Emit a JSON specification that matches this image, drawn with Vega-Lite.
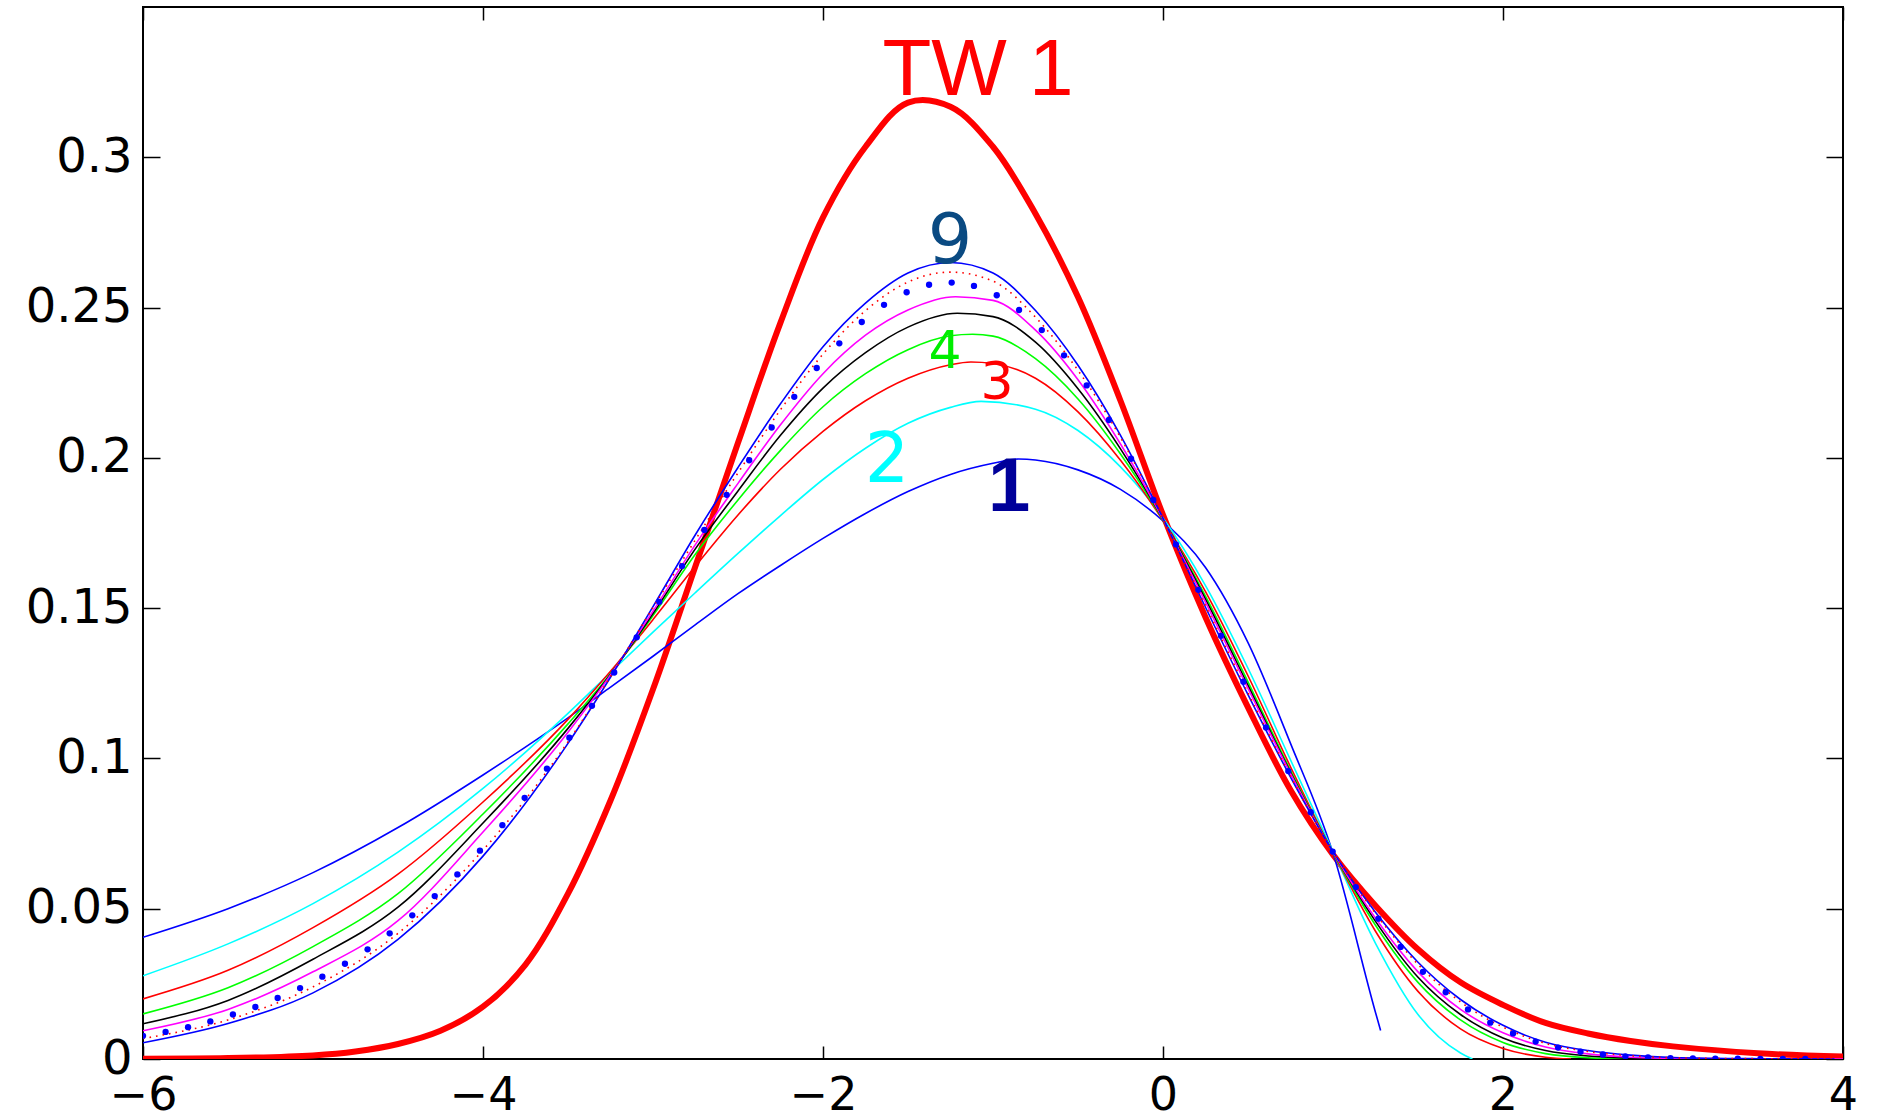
{
  "$schema": "https://vega.github.io/schema/vega-lite/v6.json",
  "width": 1700,
  "height": 1052,
  "autosize": {"type": "none"},
  "padding": {"left": 143, "top": 7, "right": 34, "bottom": 60},
  "background": "white",
  "config": {
    "view": {"stroke": "black", "strokeWidth": 2},
    "axis": {"domain": false, "grid": false, "tickColor": "black", "tickWidth": 1.5, "labelColor": "black", "labelFont": "DejaVu Sans", "labelFontSize": 48, "labelFlush": false, "labelOverlap": false, "title": null}
  },
  "datasets": {
    "curves": [
      {"curve":"TW","x":-6,"y":0.0001},{"curve":"TW","x":-5.5,"y":0.0003},{"curve":"TW","x":-5,"y":0.0012},{"curve":"TW","x":-4.75,"y":0.0025},{"curve":"TW","x":-4.5,"y":0.005},{"curve":"TW","x":-4.25,"y":0.0094},{"curve":"TW","x":-4,"y":0.0174},{"curve":"TW","x":-3.75,"y":0.0314},{"curve":"TW","x":-3.5,"y":0.055},{"curve":"TW","x":-3.25,"y":0.086},{"curve":"TW","x":-3,"y":0.123},{"curve":"TW","x":-2.75,"y":0.164},{"curve":"TW","x":-2.5,"y":0.205},{"curve":"TW","x":-2.25,"y":0.245},{"curve":"TW","x":-2,"y":0.28},{"curve":"TW","x":-1.75,"y":0.3035},{"curve":"TW","x":-1.5,"y":0.3182},{"curve":"TW","x":-1.25,"y":0.3168},{"curve":"TW","x":-1,"y":0.3035},{"curve":"TW","x":-0.75,"y":0.2812},{"curve":"TW","x":-0.5,"y":0.2535},{"curve":"TW","x":-0.25,"y":0.219},{"curve":"TW","x":0,"y":0.181},{"curve":"TW","x":0.25,"y":0.147},{"curve":"TW","x":0.5,"y":0.117},{"curve":"TW","x":0.75,"y":0.0895},{"curve":"TW","x":1,"y":0.068},{"curve":"TW","x":1.25,"y":0.051},{"curve":"TW","x":1.5,"y":0.0365},{"curve":"TW","x":1.75,"y":0.0255},{"curve":"TW","x":2,"y":0.018},{"curve":"TW","x":2.25,"y":0.012},{"curve":"TW","x":2.5,"y":0.0085},{"curve":"TW","x":2.75,"y":0.006},{"curve":"TW","x":3,"y":0.0042},{"curve":"TW","x":3.5,"y":0.0019},{"curve":"TW","x":4,"y":0.0008},

      {"curve":"c1","x":-6,"y":0.0405},{"curve":"c1","x":-5.5,"y":0.05},{"curve":"c1","x":-5,"y":0.062},{"curve":"c1","x":-4.5,"y":0.077},{"curve":"c1","x":-4,"y":0.0945},{"curve":"c1","x":-3.5,"y":0.1135},{"curve":"c1","x":-3.25,"y":0.1237},{"curve":"c1","x":-3,"y":0.134},{"curve":"c1","x":-2.75,"y":0.1445},{"curve":"c1","x":-2.5,"y":0.1548},{"curve":"c1","x":-2.25,"y":0.1642},{"curve":"c1","x":-2,"y":0.1732},{"curve":"c1","x":-1.75,"y":0.1815},{"curve":"c1","x":-1.5,"y":0.1888},{"curve":"c1","x":-1.25,"y":0.1945},{"curve":"c1","x":-1,"y":0.1982},{"curve":"c1","x":-0.85,"y":0.1996},{"curve":"c1","x":-0.75,"y":0.1993},{"curve":"c1","x":-0.5,"y":0.196},{"curve":"c1","x":-0.25,"y":0.1895},{"curve":"c1","x":0,"y":0.179},{"curve":"c1","x":0.25,"y":0.1635},{"curve":"c1","x":0.5,"y":0.1385},{"curve":"c1","x":0.75,"y":0.105},{"curve":"c1","x":1,"y":0.0685},{"curve":"c1","x":1.25,"y":0.0155},{"curve":"c1","x":1.28,"y":0.0095},

      {"curve":"c2","x":-6,"y":0.0277},{"curve":"c2","x":-5.5,"y":0.0383},{"curve":"c2","x":-5,"y":0.0517},{"curve":"c2","x":-4.5,"y":0.0688},{"curve":"c2","x":-4,"y":0.09},{"curve":"c2","x":-3.5,"y":0.115},{"curve":"c2","x":-3.25,"y":0.1286},{"curve":"c2","x":-3,"y":0.142},{"curve":"c2","x":-2.75,"y":0.1552},{"curve":"c2","x":-2.5,"y":0.1682},{"curve":"c2","x":-2.25,"y":0.1808},{"curve":"c2","x":-2,"y":0.1928},{"curve":"c2","x":-1.75,"y":0.2032},{"curve":"c2","x":-1.5,"y":0.2115},{"curve":"c2","x":-1.25,"y":0.2168},{"curve":"c2","x":-1.07,"y":0.2188},{"curve":"c2","x":-0.75,"y":0.2162},{"curve":"c2","x":-0.5,"y":0.2091},{"curve":"c2","x":-0.25,"y":0.197},{"curve":"c2","x":0,"y":0.18},{"curve":"c2","x":0.25,"y":0.1575},{"curve":"c2","x":0.5,"y":0.13},{"curve":"c2","x":0.75,"y":0.0995},{"curve":"c2","x":1,"y":0.069},{"curve":"c2","x":1.25,"y":0.0385},{"curve":"c2","x":1.5,"y":0.0148},{"curve":"c2","x":1.75,"y":0.002},{"curve":"c2","x":1.82,"y":0},

      {"curve":"c3","x":-6,"y":0.02},{"curve":"c3","x":-5.5,"y":0.0295},{"curve":"c3","x":-5,"y":0.0437},{"curve":"c3","x":-4.5,"y":0.0615},{"curve":"c3","x":-4,"y":0.0855},{"curve":"c3","x":-3.5,"y":0.113},{"curve":"c3","x":-3.25,"y":0.129},{"curve":"c3","x":-3,"y":0.1462},{"curve":"c3","x":-2.75,"y":0.164},{"curve":"c3","x":-2.5,"y":0.181},{"curve":"c3","x":-2.25,"y":0.1962},{"curve":"c3","x":-2,"y":0.2088},{"curve":"c3","x":-1.75,"y":0.219},{"curve":"c3","x":-1.5,"y":0.2265},{"curve":"c3","x":-1.25,"y":0.231},{"curve":"c3","x":-1.13,"y":0.2319},{"curve":"c3","x":-1,"y":0.2314},{"curve":"c3","x":-0.75,"y":0.2265},{"curve":"c3","x":-0.5,"y":0.2153},{"curve":"c3","x":-0.25,"y":0.1992},{"curve":"c3","x":0,"y":0.1791},{"curve":"c3","x":0.25,"y":0.1555},{"curve":"c3","x":0.5,"y":0.1275},{"curve":"c3","x":0.75,"y":0.0972},{"curve":"c3","x":1,"y":0.0686},{"curve":"c3","x":1.25,"y":0.0425},{"curve":"c3","x":1.5,"y":0.0225},{"curve":"c3","x":1.75,"y":0.01},{"curve":"c3","x":2,"y":0.0035},{"curve":"c3","x":2.25,"y":0.0006},{"curve":"c3","x":2.4,"y":0},

      {"curve":"c4","x":-6,"y":0.015},{"curve":"c4","x":-5.5,"y":0.0237},{"curve":"c4","x":-5,"y":0.0374},{"curve":"c4","x":-4.5,"y":0.055},{"curve":"c4","x":-4,"y":0.0815},{"curve":"c4","x":-3.5,"y":0.1115},{"curve":"c4","x":-3.25,"y":0.1282},{"curve":"c4","x":-3,"y":0.1475},{"curve":"c4","x":-2.75,"y":0.168},{"curve":"c4","x":-2.5,"y":0.186},{"curve":"c4","x":-2.25,"y":0.2025},{"curve":"c4","x":-2,"y":0.217},{"curve":"c4","x":-1.75,"y":0.228},{"curve":"c4","x":-1.5,"y":0.236},{"curve":"c4","x":-1.25,"y":0.2406},{"curve":"c4","x":-1.12,"y":0.2411},{"curve":"c4","x":-1,"y":0.2405},{"curve":"c4","x":-0.75,"y":0.233},{"curve":"c4","x":-0.5,"y":0.2196},{"curve":"c4","x":-0.25,"y":0.2013},{"curve":"c4","x":0,"y":0.1793},{"curve":"c4","x":0.25,"y":0.154},{"curve":"c4","x":0.5,"y":0.1255},{"curve":"c4","x":0.75,"y":0.096},{"curve":"c4","x":1,"y":0.0687},{"curve":"c4","x":1.25,"y":0.0445},{"curve":"c4","x":1.5,"y":0.0255},{"curve":"c4","x":1.75,"y":0.013},{"curve":"c4","x":2,"y":0.0055},{"curve":"c4","x":2.25,"y":0.0018},{"curve":"c4","x":2.5,"y":0.0004},{"curve":"c4","x":2.75,"y":0},

      {"curve":"c5","x":-6,"y":0.0117},{"curve":"c5","x":-5.5,"y":0.0195},{"curve":"c5","x":-5,"y":0.0332},{"curve":"c5","x":-4.5,"y":0.0505},{"curve":"c5","x":-4,"y":0.0785},{"curve":"c5","x":-3.5,"y":0.11},{"curve":"c5","x":-3.25,"y":0.128},{"curve":"c5","x":-3,"y":0.1482},{"curve":"c5","x":-2.75,"y":0.1698},{"curve":"c5","x":-2.5,"y":0.189},{"curve":"c5","x":-2.25,"y":0.2075},{"curve":"c5","x":-2,"y":0.2232},{"curve":"c5","x":-1.75,"y":0.235},{"curve":"c5","x":-1.5,"y":0.2435},{"curve":"c5","x":-1.21,"y":0.2481},{"curve":"c5","x":-1,"y":0.247},{"curve":"c5","x":-0.75,"y":0.2385},{"curve":"c5","x":-0.5,"y":0.223},{"curve":"c5","x":-0.25,"y":0.203},{"curve":"c5","x":0,"y":0.1795},{"curve":"c5","x":0.25,"y":0.153},{"curve":"c5","x":0.5,"y":0.1243},{"curve":"c5","x":0.75,"y":0.0954},{"curve":"c5","x":1,"y":0.0688},{"curve":"c5","x":1.25,"y":0.0458},{"curve":"c5","x":1.5,"y":0.0272},{"curve":"c5","x":1.75,"y":0.0148},{"curve":"c5","x":2,"y":0.007},{"curve":"c5","x":2.25,"y":0.0028},{"curve":"c5","x":2.5,"y":0.001},{"curve":"c5","x":2.75,"y":0.0003},{"curve":"c5","x":3,"y":0},

      {"curve":"c6","x":-6,"y":0.0094},{"curve":"c6","x":-5.5,"y":0.0165},{"curve":"c6","x":-5,"y":0.029},{"curve":"c6","x":-4.5,"y":0.046},{"curve":"c6","x":-4,"y":0.0755},{"curve":"c6","x":-3.5,"y":0.1087},{"curve":"c6","x":-3.25,"y":0.1278},{"curve":"c6","x":-3,"y":0.149},{"curve":"c6","x":-2.75,"y":0.1712},{"curve":"c6","x":-2.5,"y":0.1915},{"curve":"c6","x":-2.25,"y":0.211},{"curve":"c6","x":-2,"y":0.228},{"curve":"c6","x":-1.75,"y":0.2408},{"curve":"c6","x":-1.5,"y":0.2492},{"curve":"c6","x":-1.22,"y":0.2536},{"curve":"c6","x":-1,"y":0.2524},{"curve":"c6","x":-0.75,"y":0.2425},{"curve":"c6","x":-0.5,"y":0.226},{"curve":"c6","x":-0.25,"y":0.2046},{"curve":"c6","x":0,"y":0.1796},{"curve":"c6","x":0.25,"y":0.152},{"curve":"c6","x":0.5,"y":0.1233},{"curve":"c6","x":0.75,"y":0.095},{"curve":"c6","x":1,"y":0.0688},{"curve":"c6","x":1.25,"y":0.0468},{"curve":"c6","x":1.5,"y":0.029},{"curve":"c6","x":1.75,"y":0.0165},{"curve":"c6","x":2,"y":0.0087},{"curve":"c6","x":2.25,"y":0.004},{"curve":"c6","x":2.5,"y":0.0017},{"curve":"c6","x":2.75,"y":0.0006},{"curve":"c6","x":3,"y":0.0002},{"curve":"c6","x":3.5,"y":0},{"curve":"c6","x":4,"y":0},

      {"curve":"c8","x":-6,"y":0.0068},{"curve":"c8","x":-5.5,"y":0.013},{"curve":"c8","x":-5,"y":0.024},{"curve":"c8","x":-4.5,"y":0.0418},{"curve":"c8","x":-4,"y":0.0695},{"curve":"c8","x":-3.5,"y":0.1055},{"curve":"c8","x":-3.25,"y":0.1272},{"curve":"c8","x":-3,"y":0.1502},{"curve":"c8","x":-2.75,"y":0.1728},{"curve":"c8","x":-2.5,"y":0.195},{"curve":"c8","x":-2.25,"y":0.216},{"curve":"c8","x":-2,"y":0.2345},{"curve":"c8","x":-1.75,"y":0.249},{"curve":"c8","x":-1.5,"y":0.2585},{"curve":"c8","x":-1.25,"y":0.2618},{"curve":"c8","x":-1,"y":0.2588},{"curve":"c8","x":-0.75,"y":0.2468},{"curve":"c8","x":-0.5,"y":0.2291},{"curve":"c8","x":-0.25,"y":0.2068},{"curve":"c8","x":0,"y":0.1798},{"curve":"c8","x":0.25,"y":0.1508},{"curve":"c8","x":0.5,"y":0.1218},{"curve":"c8","x":0.75,"y":0.0941},{"curve":"c8","x":1,"y":0.0689},{"curve":"c8","x":1.25,"y":0.0484},{"curve":"c8","x":1.5,"y":0.0315},{"curve":"c8","x":1.75,"y":0.019},{"curve":"c8","x":2,"y":0.0106},{"curve":"c8","x":2.25,"y":0.0052},{"curve":"c8","x":2.5,"y":0.0025},{"curve":"c8","x":2.75,"y":0.0011},{"curve":"c8","x":3,"y":0.0004},{"curve":"c8","x":3.5,"y":0.0001},{"curve":"c8","x":3.95,"y":0},

      {"curve":"c9","x":-6,"y":0.0054},{"curve":"c9","x":-5.5,"y":0.0118},{"curve":"c9","x":-5,"y":0.022},{"curve":"c9","x":-4.5,"y":0.0398},{"curve":"c9","x":-4,"y":0.0675},{"curve":"c9","x":-3.5,"y":0.105},{"curve":"c9","x":-3.25,"y":0.127},{"curve":"c9","x":-3,"y":0.1505},{"curve":"c9","x":-2.75,"y":0.1745},{"curve":"c9","x":-2.5,"y":0.1968},{"curve":"c9","x":-2.25,"y":0.218},{"curve":"c9","x":-2,"y":0.237},{"curve":"c9","x":-1.75,"y":0.2515},{"curve":"c9","x":-1.5,"y":0.2615},{"curve":"c9","x":-1.25,"y":0.265},{"curve":"c9","x":-1,"y":0.2615},{"curve":"c9","x":-0.75,"y":0.249},{"curve":"c9","x":-0.5,"y":0.2308},{"curve":"c9","x":-0.25,"y":0.2075},{"curve":"c9","x":0,"y":0.1799},{"curve":"c9","x":0.25,"y":0.1503},{"curve":"c9","x":0.5,"y":0.1212},{"curve":"c9","x":0.75,"y":0.0938},{"curve":"c9","x":1,"y":0.069},{"curve":"c9","x":1.25,"y":0.0488},{"curve":"c9","x":1.5,"y":0.0322},{"curve":"c9","x":1.75,"y":0.0198},{"curve":"c9","x":2,"y":0.0112},{"curve":"c9","x":2.25,"y":0.0056},{"curve":"c9","x":2.5,"y":0.0028},{"curve":"c9","x":2.75,"y":0.0013},{"curve":"c9","x":3,"y":0.0005},{"curve":"c9","x":3.5,"y":0.0001},{"curve":"c9","x":3.95,"y":0}
    ],
    "dots": [
      {"x":-6,"y":0.0077},{"x":-5.867,"y":0.009},{"x":-5.735,"y":0.0106},{"x":-5.604,"y":0.0125},{"x":-5.471,"y":0.0148},{"x":-5.339,"y":0.0173},{"x":-5.208,"y":0.0203},{"x":-5.076,"y":0.0236},{"x":-4.945,"y":0.0274},{"x":-4.812,"y":0.0317},{"x":-4.679,"y":0.0365},{"x":-4.549,"y":0.0418},{"x":-4.416,"y":0.0478},{"x":-4.284,"y":0.0542},{"x":-4.151,"y":0.0614},{"x":-4.018,"y":0.0693},{"x":-3.886,"y":0.0778},{"x":-3.755,"y":0.0869},{"x":-3.624,"y":0.0966},{"x":-3.492,"y":0.1069},{"x":-3.359,"y":0.1175},{"x":-3.228,"y":0.1286},{"x":-3.096,"y":0.1403},{"x":-2.963,"y":0.1521},{"x":-2.829,"y":0.164},{"x":-2.698,"y":0.176},{"x":-2.567,"y":0.1877},{"x":-2.434,"y":0.1992},{"x":-2.302,"y":0.2101},{"x":-2.169,"y":0.2203},{"x":-2.037,"y":0.2299},{"x":-1.904,"y":0.2381},{"x":-1.772,"y":0.2452},{"x":-1.641,"y":0.2509},{"x":-1.508,"y":0.2551},{"x":-1.376,"y":0.2576},{"x":-1.243,"y":0.2583},{"x":-1.112,"y":0.2572},{"x":-0.978,"y":0.2541},{"x":-0.847,"y":0.2492},{"x":-0.713,"y":0.2425},{"x":-0.582,"y":0.2341},{"x":-0.449,"y":0.2241},{"x":-0.318,"y":0.2126},{"x":-0.188,"y":0.1997},{"x":-0.057,"y":0.186},{"x":0.076,"y":0.1712},{"x":0.208,"y":0.1561},{"x":0.341,"y":0.1408},{"x":0.473,"y":0.1255},{"x":0.606,"y":0.1103},{"x":0.737,"y":0.0958},{"x":0.869,"y":0.0821},{"x":0.998,"y":0.069},{"x":1.134,"y":0.0572},{"x":1.267,"y":0.0467},{"x":1.398,"y":0.0373},{"x":1.529,"y":0.029},{"x":1.663,"y":0.0222},{"x":1.794,"y":0.0165},{"x":1.925,"y":0.0121},{"x":2.059,"y":0.0085},{"x":2.192,"y":0.0058},{"x":2.324,"y":0.0038},{"x":2.456,"y":0.0024},{"x":2.588,"y":0.0015},{"x":2.72,"y":0.0009},{"x":2.853,"y":0.0005},{"x":2.985,"y":0.0003},{"x":3.117,"y":0.0002},{"x":3.249,"y":0.0001},{"x":3.381,"y":0.0001},{"x":3.514,"y":0},{"x":3.646,"y":0},{"x":3.778,"y":0}
    ],
    "labels": [
      {"label":"TW 1","x":-1.088,"y":0.3207},
      {"label":"9","x":-1.253,"y":0.2648},
      {"label":"4","x":-1.282,"y":0.2299},
      {"label":"3","x":-0.976,"y":0.2196},
      {"label":"2","x":-1.624,"y":0.192},
      {"label":"1","x":-0.905,"y":0.1823}
    ]
  },
  "layer": [
    {
      "data": {"name": "curves"},
      "transform": [{"filter": "datum.curve === 'TW'"}],
      "mark": {"type": "line", "color": "#ff0000", "strokeWidth": 6, "interpolate": "catmull-rom", "clip": true},
      "encoding": {
        "x": {"field": "x", "type": "quantitative", "scale": {"domain": [-6, 4], "nice": false, "zero": false},
              "axis": {"orient": "bottom", "values": [-6, -4, -2, 0, 2, 4], "format": "d", "tickSize": -13, "labelPadding": 27, "labelFontSize": 46}},
        "y": {"field": "y", "type": "quantitative", "scale": {"domain": [0, 0.35], "nice": false},
              "axis": {"orient": "left", "values": [0, 0.05, 0.1, 0.15, 0.2, 0.25, 0.3], "format": "~g", "tickSize": -17, "labelPadding": 28}}
      }
    },
    {
      "data": {"name": "curves"},
      "transform": [{"filter": {"field": "curve", "oneOf": ["c1", "c2", "c3", "c4", "c5", "c6", "c9"]}}],
      "mark": {"type": "line", "strokeWidth": 1.6, "interpolate": "monotone", "clip": true},
      "encoding": {
        "x": {"field": "x", "type": "quantitative", "axis": null},
        "y": {"field": "y", "type": "quantitative", "axis": null},
        "color": {"field": "curve", "type": "nominal", "legend": null,
                  "scale": {"domain": ["c1", "c2", "c3", "c4", "c5", "c6", "c9"], "range": ["#0000ff", "#00ffff", "#ff0000", "#00ff00", "#000000", "#ff00ff", "#0000ff"]}}
      }
    },
    {
      "data": {"name": "curves"},
      "transform": [{"filter": "datum.curve === 'c8'"}],
      "mark": {"type": "line", "color": "#ff0000", "strokeWidth": 1.6, "strokeDash": [1.6, 5], "interpolate": "monotone", "clip": true},
      "encoding": {
        "x": {"field": "x", "type": "quantitative", "axis": null},
        "y": {"field": "y", "type": "quantitative", "axis": null}
      }
    },
    {
      "data": {"name": "dots"},
      "mark": {"type": "point", "filled": true, "color": "#0000ff", "size": 40, "opacity": 1, "clip": true},
      "encoding": {
        "x": {"field": "x", "type": "quantitative",
              "axis": {"orient": "top", "values": [-6, -4, -2, 0, 2, 4], "labels": false, "tickSize": -13}},
        "y": {"field": "y", "type": "quantitative",
              "axis": {"orient": "right", "values": [0, 0.05, 0.1, 0.15, 0.2, 0.25, 0.3], "labels": false, "tickSize": -17}}
      }
    },
    {
      "data": {"name": "labels"},
      "transform": [{"filter": "datum.label === 'TW 1'"}],
      "mark": {"type": "text", "color": "#ff0000", "font": "Liberation Sans", "fontSize": 80, "align": "center", "baseline": "alphabetic"},
      "encoding": {"x": {"field": "x", "type": "quantitative", "axis": null}, "y": {"field": "y", "type": "quantitative", "axis": null}, "text": {"field": "label"}}
    },
    {
      "data": {"name": "labels"},
      "transform": [{"filter": "datum.label === '9'"}],
      "mark": {"type": "text", "color": "#0a4a82", "font": "DejaVu Sans", "fontSize": 70, "align": "center", "baseline": "alphabetic"},
      "encoding": {"x": {"field": "x", "type": "quantitative", "axis": null}, "y": {"field": "y", "type": "quantitative", "axis": null}, "text": {"field": "label"}}
    },
    {
      "data": {"name": "labels"},
      "transform": [{"filter": "datum.label === '4'"}],
      "mark": {"type": "text", "color": "#00ee00", "font": "DejaVu Sans", "fontSize": 52, "align": "center", "baseline": "alphabetic"},
      "encoding": {"x": {"field": "x", "type": "quantitative", "axis": null}, "y": {"field": "y", "type": "quantitative", "axis": null}, "text": {"field": "label"}}
    },
    {
      "data": {"name": "labels"},
      "transform": [{"filter": "datum.label === '3'"}],
      "mark": {"type": "text", "color": "#ff0000", "font": "DejaVu Sans", "fontSize": 52, "align": "center", "baseline": "alphabetic"},
      "encoding": {"x": {"field": "x", "type": "quantitative", "axis": null}, "y": {"field": "y", "type": "quantitative", "axis": null}, "text": {"field": "label"}}
    },
    {
      "data": {"name": "labels"},
      "transform": [{"filter": "datum.label === '2'"}],
      "mark": {"type": "text", "color": "#00ffff", "font": "DejaVu Sans", "fontSize": 70, "align": "center", "baseline": "alphabetic"},
      "encoding": {"x": {"field": "x", "type": "quantitative", "axis": null}, "y": {"field": "y", "type": "quantitative", "axis": null}, "text": {"field": "label"}}
    },
    {
      "data": {"name": "labels"},
      "transform": [{"filter": "datum.label === '1'"}],
      "mark": {"type": "text", "color": "#00009a", "font": "Liberation Sans", "fontSize": 76, "fontWeight": "bold", "align": "center", "baseline": "alphabetic"},
      "encoding": {"x": {"field": "x", "type": "quantitative", "axis": null}, "y": {"field": "y", "type": "quantitative", "axis": null}, "text": {"field": "label"}}
    }
  ],
  "resolve": {"axis": {"x": "independent", "y": "independent"}}
}
